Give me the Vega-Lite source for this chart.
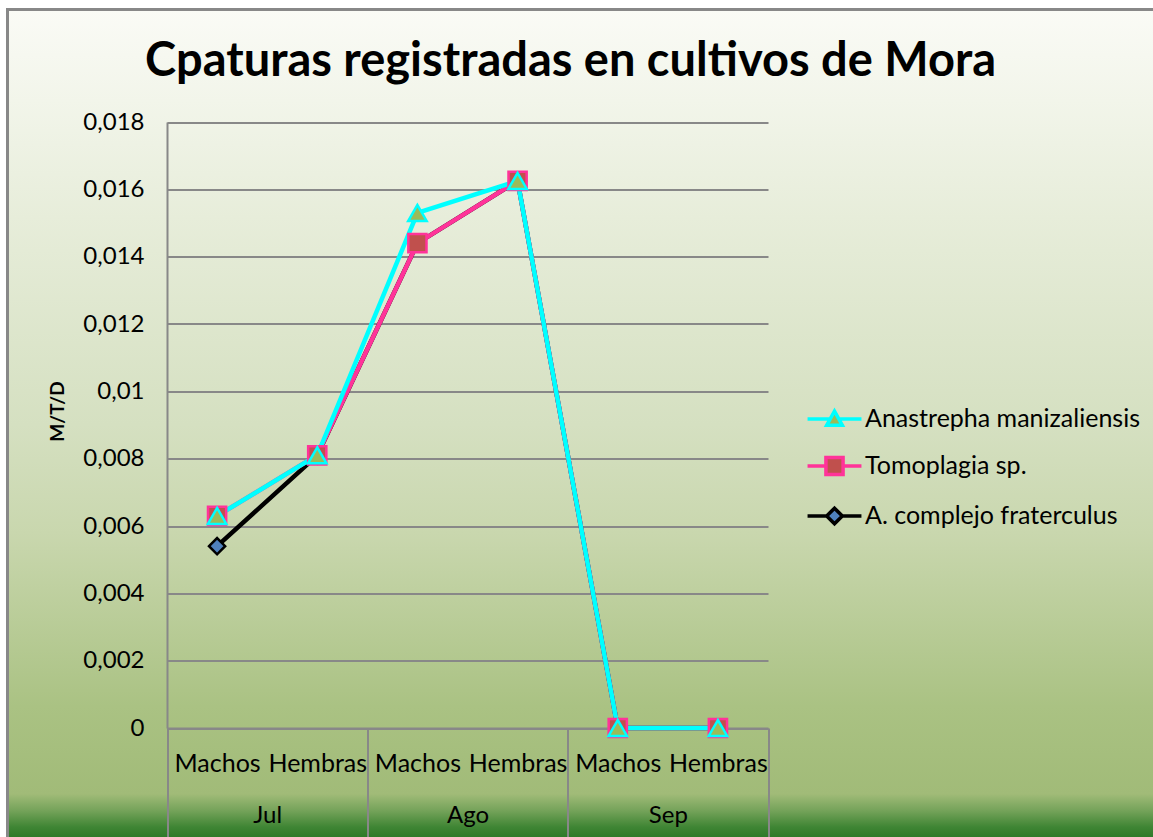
{
  "$schema": "https://vega.github.io/schema/vega-lite/v6.json",
  "width": 1148,
  "height": 830,
  "autosize": "none",
  "padding": {"left": 7.5, "top": 9.5, "right": -2.5, "bottom": -2.5},
  "background": "#ffffff",
  "config": {
    "view": {
      "stroke": "#888888",
      "strokeWidth": 3,
      "fill": {
        "gradient": "linear",
        "x1": 0, "y1": 0, "x2": 0, "y2": 1,
        "stops": [
          {"offset": 0, "color": "#fafbf6"},
          {"offset": 0.11, "color": "#f2f5ea"},
          {"offset": 0.25, "color": "#e7edda"},
          {"offset": 0.5, "color": "#d5e0c1"},
          {"offset": 0.63, "color": "#c9d7ae"},
          {"offset": 0.84, "color": "#aac283"},
          {"offset": 0.945, "color": "#a1bb78"},
          {"offset": 0.965, "color": "#75a35a"},
          {"offset": 0.985, "color": "#3f8534"},
          {"offset": 1, "color": "#2b7726"}
        ]
      }
    },
    "font": "Lato",
    "axis": {"labelFont": "Lato", "titleFont": "Lato", "labelColor": "#000000", "titleColor": "#000000"}
  },
  "title": {
    "text": "Cpaturas registradas en cultivos de Mora",
    "font": "Lato",
    "fontSize": 47,
    "fontWeight": "bold",
    "color": "#000000",
    "anchor": "middle",
    "baseline": "alphabetic",
    "dx": -11,
    "offset": -113
  },
  "data": {
    "values": [
      {"series": "A. complejo fraterculus", "cat": "Jul-Machos", "month": "Jul", "value": 0.0054},
      {"series": "A. complejo fraterculus", "cat": "Jul-Hembras", "month": "Jul", "value": 0.0081},
      {"series": "A. complejo fraterculus", "cat": "Ago-Machos", "month": "Ago", "value": 0.0144},
      {"series": "A. complejo fraterculus", "cat": "Ago-Hembras", "month": "Ago", "value": 0.01625},
      {"series": "A. complejo fraterculus", "cat": "Sep-Machos", "month": "Sep", "value": 0},
      {"series": "A. complejo fraterculus", "cat": "Sep-Hembras", "month": "Sep", "value": 0},
      {"series": "Tomoplagia sp.", "cat": "Jul-Machos", "month": "Jul", "value": 0.0063},
      {"series": "Tomoplagia sp.", "cat": "Jul-Hembras", "month": "Jul", "value": 0.0081},
      {"series": "Tomoplagia sp.", "cat": "Ago-Machos", "month": "Ago", "value": 0.0144},
      {"series": "Tomoplagia sp.", "cat": "Ago-Hembras", "month": "Ago", "value": 0.01625},
      {"series": "Tomoplagia sp.", "cat": "Sep-Machos", "month": "Sep", "value": 0},
      {"series": "Tomoplagia sp.", "cat": "Sep-Hembras", "month": "Sep", "value": 0},
      {"series": "Anastrepha manizaliensis", "cat": "Jul-Machos", "month": "Jul", "value": 0.0063},
      {"series": "Anastrepha manizaliensis", "cat": "Jul-Hembras", "month": "Jul", "value": 0.0081},
      {"series": "Anastrepha manizaliensis", "cat": "Ago-Machos", "month": "Ago", "value": 0.0153},
      {"series": "Anastrepha manizaliensis", "cat": "Ago-Hembras", "month": "Ago", "value": 0.01625},
      {"series": "Anastrepha manizaliensis", "cat": "Sep-Machos", "month": "Sep", "value": 0},
      {"series": "Anastrepha manizaliensis", "cat": "Sep-Hembras", "month": "Sep", "value": 0}
    ]
  },
  "layer": [
    {
      "mark": {"type": "point", "opacity": 0},
      "encoding": {
        "x": {
          "field": "month",
          "type": "nominal",
          "sort": ["Jul", "Ago", "Sep"],
          "scale": {"type": "band", "domain": ["Jul", "Ago", "Sep"], "range": [159.5, 760.5], "paddingInner": 0, "paddingOuter": 0},
          "axis": {
            "title": null,
            "orient": "bottom",
            "offset": -111.5,
            "domain": false,
            "grid": false,
            "ticks": true,
            "tickBand": "extent",
            "tickSize": 112,
            "tickColor": "#888888",
            "tickWidth": 2,
            "labelPadding": -37,
            "labelFontSize": 24,
            "labelAngle": 0,
            "labelOverlap": false
          }
        }
      }
    },
    {
      "encoding": {
        "x": {
          "field": "cat",
          "type": "nominal",
          "sort": ["Jul-Machos", "Jul-Hembras", "Ago-Machos", "Ago-Hembras", "Sep-Machos", "Sep-Hembras"],
          "scale": {"type": "point", "padding": 0.5, "range": [159.5, 760.5], "domain": ["Jul-Machos", "Jul-Hembras", "Ago-Machos", "Ago-Hembras", "Sep-Machos", "Sep-Hembras"]},
          "axis": {
            "title": null,
            "orient": "bottom",
            "offset": -111.5,
            "labelExpr": "split(datum.value, '-')[1]",
            "ticks": false,
            "domain": true,
            "domainColor": "#888888",
            "domainWidth": 2,
            "grid": false,
            "labelPadding": 23,
            "labelFontSize": 25,
            "labelAngle": 0,
            "labelOverlap": false
          }
        },
        "y": {
          "field": "value",
          "type": "quantitative",
          "scale": {"domain": [0, 0.018], "nice": false, "zero": true, "range": [718.5, 112.5]},
          "axis": {
            "title": "M/T/D",
            "offset": -159.5,
            "titleFont": "Lato",
            "titleFontSize": 19,
            "titleFontWeight": 700,
            "titleX": -109.5,
            "titleY": 401.5,
            "titleBaseline": "middle",
            "titleAlign": "center",
            "titleAngle": 270,
            "values": [0, 0.002, 0.004, 0.006, 0.008, 0.01, 0.012, 0.014, 0.016, 0.018],
            "labelExpr": "replace(format(datum.value, '~r'), '.', ',')",
            "ticks": false,
            "domainColor": "#888888",
            "domainWidth": 2,
            "gridColor": "#888888",
            "gridWidth": 2,
            "labelFontSize": 24,
            "labelPadding": 23
          }
        }
      },
      "layer": [
        {
          "mark": {"type": "line", "strokeWidth": 4.5},
          "encoding": {
            "color": {
              "field": "series",
              "type": "nominal",
              "scale": {
                "domain": ["Anastrepha manizaliensis", "Tomoplagia sp.", "A. complejo fraterculus"],
                "range": ["#00ffff", "#ff3399", "#000000"]
              },
              "legend": {
                "title": null,
                "orient": "none",
                "legendX": 800.5,
                "legendY": 383,
                "symbolSize": 2401,
                "symbolStrokeWidth": 3.5,
                "labelFont": "Lato",
                "labelFontSize": 25,
                "labelColor": "#000000",
                "labelOffset": 4,
                "labelLimit": 400,
                "rowPadding": 7,
                "encode": {
                  "symbols": {
                    "update": {
                      "shape": {"signal": "datum.value === 'Anastrepha manizaliensis' ? 'M-1.1,0H-0.17M0.17,0H1.1M0,-0.32L0.32,0.26L-0.32,0.26Z' : datum.value === 'Tomoplagia sp.' ? 'M-1.1,0H-0.35M0.35,0H1.1M-0.35,-0.35H0.35V0.35H-0.35Z' : 'M-1.1,0H-0.32M0.32,0H1.1M0,-0.32L0.32,0L0,0.32L-0.32,0Z'"},
                      "fill": {"signal": "datum.value === 'Anastrepha manizaliensis' ? '#9bbb59' : datum.value === 'Tomoplagia sp.' ? '#c0504d' : '#4f81bd'"},
                      "fillOpacity": {"value": 1}
                    }
                  }
                }
              }
            }
          }
        },
        {
          "transform": [{"filter": "datum.series === 'A. complejo fraterculus'"}],
          "mark": {"type": "point", "filled": true, "shape": "diamond", "size": 260, "fill": "#4f81bd", "stroke": "#000000", "strokeWidth": 2.5, "opacity": 1}
        },
        {
          "transform": [{"filter": "datum.series === 'Tomoplagia sp.'"}],
          "mark": {"type": "point", "filled": true, "shape": "square", "size": 330, "fill": "#c0504d", "stroke": "#ff3399", "strokeWidth": 2.5, "opacity": 1}
        },
        {
          "transform": [{"filter": "datum.series === 'Anastrepha manizaliensis'"}],
          "mark": {"type": "point", "filled": true, "shape": "triangle-up", "size": 340, "fill": "#9bbb59", "stroke": "#00ffff", "strokeWidth": 2.5, "opacity": 1}
        }
      ]
    }
  ],
  "resolve": {"scale": {"x": "independent"}, "axis": {"x": "independent"}}
}
